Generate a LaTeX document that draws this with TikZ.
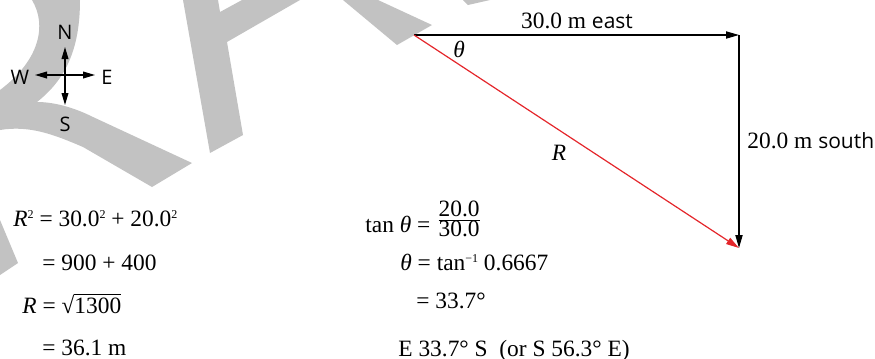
\documentclass[tikz,border=0pt]{standalone}
\usepackage{fontspec}
\setmainfont{Liberation Serif}
\newfontfamily\compassfont{Open Sans}
\usepackage{tikz}
\usetikzlibrary{arrows.meta}
\definecolor{wmgray}{HTML}{C2C2C2}
\definecolor{resred}{HTML}{E4262B}
\newcommand{\dirword}[1]{{\compassfont\fontsize{10.5}{12}\selectfont #1}}
\newcommand{\supnum}[1]{\raisebox{0.32em}{\fontsize{6}{7}\selectfont #1}}

\begin{document}
\begin{tikzpicture}[
		x=0.5pt,y=-0.5pt,
		vec/.style={-{Triangle[length=6.5pt,width=3.6pt]}, line width=0.6pt, draw=black},
		resvec/.style={-{Triangle[length=6.5pt,width=3.6pt]}, line width=0.6pt, draw=resred},
		compass/.style={-{Triangle[length=6pt,width=3.4pt]}, line width=0.6pt, draw=black},
		dirlabel/.style={font=\compassfont\fontsize{10}{12}\selectfont, inner sep=0pt},
		veclabel/.style={font=\fontsize{11.7}{14}\selectfont, inner sep=0pt},
		eqtext/.style={font=\fontsize{11.7}{14}\selectfont, inner sep=0pt, anchor=base west},
		watermark/.style={fill=wmgray, draw=none}
	]
	\useasboundingbox (0,0) rectangle (875,359);
	
	% Watermark pieces
	\fill[watermark] (32,0) .. controls (47,25) and (40,60) .. (0,90) -- (0,130)
		.. controls (30,125) and (55,135) .. (83,147) -- (152,187) -- (192,163) -- (93,117)
		.. controls (75,108) and (55,102) .. (37,102) .. controls (65,80) and (80,50) .. (80,0) -- cycle;
	\fill[watermark] (0,220) -- (18,263) -- (0,275) -- cycle;
	\fill[watermark] (183,0) -- (210,153) -- (243,135) -- (227,42) -- (300,0) -- (242,0) -- (220,12) -- (218,0) -- cycle;
	\fill[watermark] (343,0) -- (378,0) -- (432,25) -- (397,45) -- cycle;
	\fill[watermark] (463,0) -- (490,0) -- (468,5) -- cycle;
	
	% Compass
	\coordinate (cc) at (65,75);
	\coordinate (cN) at (65,47);
	\coordinate (cS) at (65,105);
	\coordinate (cW) at (35,75);
	\coordinate (cE) at (95,75);
	\draw[compass] (cc) -- (cN);
	\draw[compass] (cc) -- (cS);
	\draw[compass] (cc) -- (cW);
	\draw[compass] (cc) -- (cE);
	\node[dirlabel] (north) at (65,32) {N};
	\node[dirlabel] (south) at (65,124) {S};
	\node[dirlabel] (west) at (20,77) {W};
	\node[dirlabel] (east) at (107,77) {E};
	
	% Displacement vectors
	\coordinate (start) at (414,35);
	\coordinate (corner) at (739,35);
	\coordinate (finish) at (739,248);
	\draw[vec] (start) -- (corner);
	\draw[vec] (corner) -- (finish);
	\draw[resvec] (start) -- (finish);
	\node[veclabel, anchor=base] (eastlbl) at (577,28) {30.0 m \dirword{east}};
	\node[veclabel, anchor=base west] (southlbl) at (747,148) {20.0 m \dirword{south}};
	\node[veclabel] (anglelbl) at (459,49) {\textit{θ}};
	\node[veclabel] (reslbl) at (559,153) {\textit{R}};
	
	% Magnitude
	\node[eqtext] (magA) at (13,226) {\textit{R}\supnum{2} = 30.0\supnum{2} + 20.0\supnum{2}};
	\node[eqtext] (magB) at (42,270) {= 900 + 400};
	\node[eqtext] (magC) at (22,313) {\textit{R} = √\ensuremath{\overline{\hbox{1300}}}};
	\node[eqtext] (magD) at (42,355) {= 36.1 m};
	
	% Direction
	\node[eqtext] (dirA) at (365,232) {tan \textit{θ} = \raisebox{3pt}{\ensuremath{\frac{\hbox{20.0}}{\hbox{30.0}}}}};
	\node[eqtext] (dirB) at (400,270) {\textit{θ} = tan\supnum{−1} 0.6667};
	\node[eqtext] (dirC) at (416,308) {= 33.7°};
	\node[eqtext] (dirD) at (398,356) {E 33.7° S\ \ (or S 56.3° E)};
	
\end{tikzpicture}
\end{document}
